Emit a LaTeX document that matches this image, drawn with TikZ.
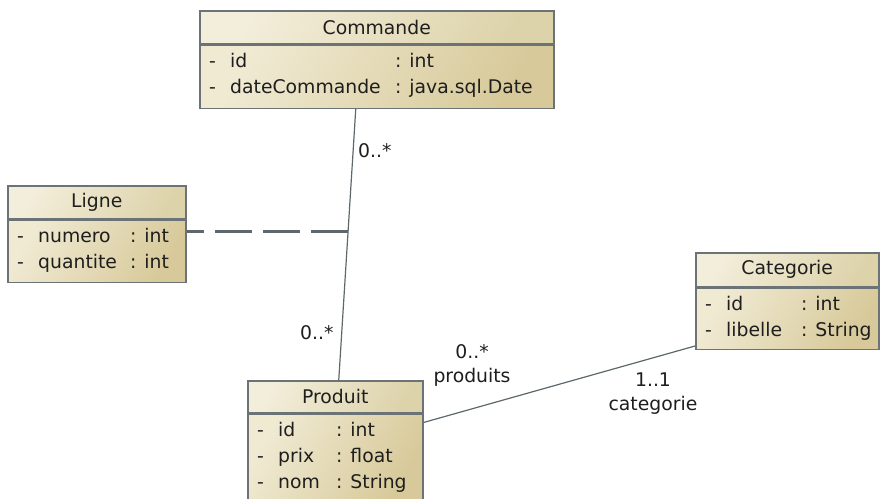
\documentclass[tikz,border=0pt]{standalone}
\usepackage{fontspec}
\setmainfont{DejaVu Sans}
\usetikzlibrary{matrix,positioning}
\definecolor{headlight}{HTML}{F3EEDB}
\definecolor{headdark}{HTML}{DDD3AB}
\definecolor{bodylight}{HTML}{F0EAD3}
\definecolor{bodydark}{HTML}{D7C999}
\definecolor{classborder}{HTML}{6B7377}
\definecolor{classtext}{HTML}{1E1E1E}
\definecolor{linegray}{HTML}{5E676B}

\begin{document}
\begin{tikzpicture}[x=1pt,y=-1pt,font=\fontsize{18.8}{24}\selectfont,
classhead/.style={draw=classborder, line width=1.5pt, top color=headlight,
    bottom color=headdark, shading angle=60, text=classtext, inner sep=0pt,
    anchor=north west},
classbody/.style={draw=classborder, line width=1.5pt, top color=bodylight,
    bottom color=bodydark, shading angle=60, inner sep=0pt, below=0pt of #1},
attrs/.style={matrix of nodes, inner sep=0pt, column sep=0pt, row sep=0pt,
    nodes={anchor=base west, inner xsep=0pt, inner ysep=3.5pt, text height=14pt,
    text depth=5pt, text=classtext}, column 1/.style={nodes={text width=21pt}}},
assoc/.style={draw=linegray, line width=1.2pt},
assocclass/.style={draw=linegray, line width=3pt, dash pattern=on 37pt off 11pt},
mult/.style={inner sep=0pt, text=classtext}]
\useasboundingbox (0,0) rectangle (880,498);

% classes
\node[classhead, minimum width=354pt, minimum height=33pt] (commande) at (199,10) {Commande};
\node[classbody=commande, minimum width=354pt, minimum height=63pt] (commande-body) {};
\matrix[attrs, below right=5pt and 10pt of commande-body.north west,
    column 2/.style={nodes={text width=165pt}}] (commande-attr) {
- & id & : int\\
- & dateCommande & : java.sql.Date\\};

\node[classhead, minimum width=178pt, minimum height=33pt] (ligne) at (7,185) {Ligne};
\node[classbody=ligne, minimum width=178pt, minimum height=62pt] (ligne-body) {};
\matrix[attrs, below right=5pt and 10pt of ligne-body.north west,
    column 2/.style={nodes={text width=92pt}}] (ligne-attr) {
- & numero & : int\\
- & quantite & : int\\};

\node[classhead, minimum width=175pt, minimum height=32pt] (produit) at (247,380) {Produit};
\node[classbody=produit, minimum width=175pt, minimum height=85pt] (produit-body) {};
\matrix[attrs, below right=5pt and 10pt of produit-body.north west,
    column 2/.style={nodes={text width=58pt}}] (produit-attr) {
- & id & : int\\
- & prix & : float\\
- & nom & : String\\};

\node[classhead, minimum width=183pt, minimum height=34pt] (categorie) at (695,252) {Categorie};
\node[classbody=categorie, minimum width=183pt, minimum height=61pt] (categorie-body) {};
\matrix[attrs, below right=5pt and 10pt of categorie-body.north west,
    column 2/.style={nodes={text width=75pt}}] (categorie-attr) {
- & id & : int\\
- & libelle & : String\\};

% associations
\draw[assoc] ([xshift=-21pt]commande-body.south) -- coordinate[pos=0.4526] (ligne-link)
    ([xshift=3.5pt]produit.north);
\draw[assocclass] (ligne-link) -- (ligne-link -| ligne-body.east);
\draw[assoc] ([yshift=-9pt]produit-body.north east) -- ([yshift=4pt]categorie-body.south west);

% multiplicities
\node[mult, anchor=west] (commande-mult) at (358,151) {0..*};
\node[mult, anchor=west] (produit-mult) at (300,333) {0..*};
\node[mult, align=center] (produits-role) at (472,365) {0..*\\produits};
\node[mult, align=center] (categorie-role) at (653,394) {1..1\\categorie};
\end{tikzpicture}
\end{document}
